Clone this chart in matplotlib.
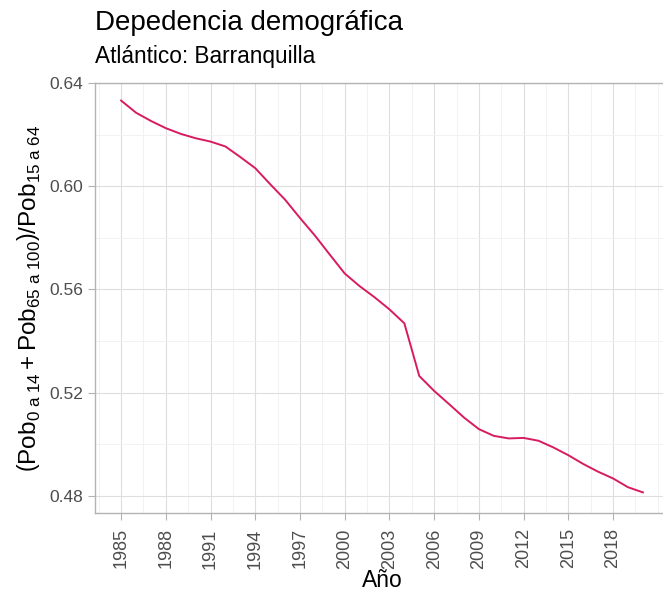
import matplotlib
matplotlib.use('Agg')
import matplotlib.pyplot as plt
import numpy as np
from matplotlib.ticker import FixedLocator

plt.rcParams['font.family'] = ['Liberation Sans', 'DejaVu Sans']
plt.rcParams['mathtext.fontset'] = 'custom'
plt.rcParams['mathtext.rm'] = 'Liberation Sans'
plt.rcParams['mathtext.it'] = 'Liberation Sans:italic'

anios = list(range(1985, 2021))
dependencia = [0.6332, 0.6285, 0.6253, 0.6225, 0.6203, 0.6186, 0.6173, 0.6154,
               0.6113, 0.6070, 0.6008, 0.5948, 0.5877, 0.5809, 0.5735, 0.5662,
               0.5613, 0.5570, 0.5523, 0.5469, 0.5265, 0.5207, 0.5156, 0.5104,
               0.5059, 0.5033, 0.5023, 0.5025, 0.5014, 0.4988, 0.4958, 0.4924,
               0.4894, 0.4868, 0.4834, 0.4814]

titulo = 'Depedencia demográfica'
subtitulo = 'Atlántico: Barranquilla'

fig = plt.figure(figsize=(6.63, 5.92), dpi=100)
ax = fig.add_axes([0.1433, 0.1334, 0.8657, 0.7264])

ax.plot(anios, dependencia, color='#D81B60', lw=1.4, zorder=3)

ax.set_xlim(1983.25, 2021.75)
ax.set_ylim(0.4734, 0.6396)
ax.set_xticks(range(1985, 2021, 3))
ax.xaxis.set_minor_locator(FixedLocator(np.arange(1983.5, 2022, 1.5)))
ax.set_yticks([0.48, 0.52, 0.56, 0.60, 0.64])
ax.set_yticklabels(['0.48', '0.52', '0.56', '0.60', '0.64'])
ax.yaxis.set_minor_locator(FixedLocator([0.50, 0.54, 0.58, 0.62]))

ax.grid(which='major', color='#DEDEDE', lw=0.8)
ax.grid(which='minor', color='#F0F0F0', lw=0.6)
ax.set_axisbelow(True)

for s in ['top', 'left', 'bottom', 'right']:
    ax.spines[s].set_color('#B3B3B3')
    ax.spines[s].set_linewidth(1.0)

ax.tick_params(which='major', color='#B3B3B3', length=5, width=0.8,
               labelcolor='#4D4D4D', labelsize=12.5)
ax.tick_params(which='minor', length=0)
ax.tick_params(axis='x', labelrotation=90, labelsize=13, pad=6)

ax.set_xlabel('Año', fontsize=16.5, labelpad=0)
ax.set_ylabel(r'$\left(\mathrm{Pob}_{0\ \mathrm{a}\ 14}+\mathrm{Pob}_{65\ \mathrm{a}\ 100}\right)/\mathrm{Pob}_{15\ \mathrm{a}\ 64}$',
              fontsize=17.5, labelpad=5)

fig.text(0.1433, 0.949, titulo, fontsize=20, va='baseline', ha='left')
fig.text(0.1433, 0.8936, subtitulo, fontsize=16.3, va='baseline', ha='left')

fig.savefig('out.png', dpi=100)
